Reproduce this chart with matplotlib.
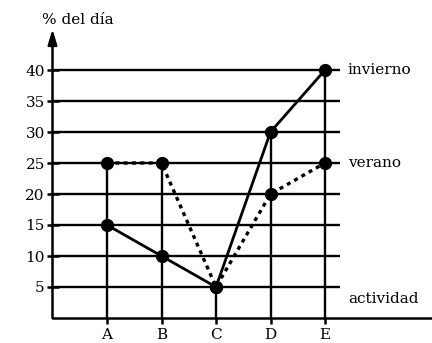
import matplotlib.pyplot as plt

# --- data ---
categories = ['A', 'B', 'C', 'D', 'E']
invierno = [15, 10, 5, 30, 40]
verano = [25, 25, 5, 20, 25]
yticks = [5, 10, 15, 20, 25, 30, 35, 40]

plt.rcParams['font.family'] = 'DejaVu Serif'
FS = 11

fig = plt.figure(figsize=(4.32, 3.43), dpi=100)
# axes placed so that x=0 / y=0 is the corner of the drawn axes
ax = fig.add_axes([52.5 / 432, 25 / 343, (432 - 52.5) / 432, 318 / 343])
ax.set_xlim(0, (432 - 52.5) / 54.5)
ax.set_ylim(0, 318 / 6.2)
ax.patch.set_visible(False)

xs = list(range(1, len(categories) + 1))

# horizontal guide lines
ax.hlines(yticks, 0, 5.27, color='black', lw=1.7, zorder=1)
# drop lines from the highest point of each activity
tops = [max(a, b) for a, b in zip(invierno, verano)]
ax.vlines(xs, 0, tops, color='black', lw=1.7, zorder=1)

# series
ax.plot(xs, verano, color='black', lw=2.4, linestyle=(0, (1.2, 1.3)),
        dash_capstyle='butt', zorder=3)
ax.plot(xs, invierno, color='black', lw=2.0, zorder=4)
ax.plot(xs, verano, 'o', color='black', ms=8.5, zorder=5)
ax.plot(xs, invierno, 'o', color='black', ms=8.5, zorder=5)

# series names at the right end
ax.text(5.42, invierno[-1], 'invierno', fontsize=FS, va='center', ha='left')
ax.text(5.42, verano[-1], 'verano', fontsize=FS, va='center', ha='left')
ax.text(5.42, 3.0, 'actividad', fontsize=FS, va='center', ha='left', clip_on=False)

# axes
for side in ['top', 'right', 'left']:
    ax.spines[side].set_visible(False)
ax.spines['bottom'].set_linewidth(1.8)
ax.annotate('', xy=(0, 46.6), xytext=(0, 0),
            arrowprops=dict(arrowstyle='-|>,head_length=0.6,head_width=0.18',
                            lw=1.8, color='black', mutation_scale=15,
                            shrinkA=0, shrinkB=0))
ax.text(-0.19, 48.1, '% del día', fontsize=FS, va='center', ha='left')

ax.set_yticks(yticks)
ax.set_yticklabels([str(v) for v in yticks], fontsize=FS)
ax.tick_params(axis='y', direction='inout', length=9, width=1.8, pad=1)
ax.set_xticks(xs)
ax.set_xticklabels(categories, fontsize=FS)
ax.tick_params(axis='x', direction='out', length=4, width=1.8, pad=3)

fig.savefig('out.png', dpi=100)
